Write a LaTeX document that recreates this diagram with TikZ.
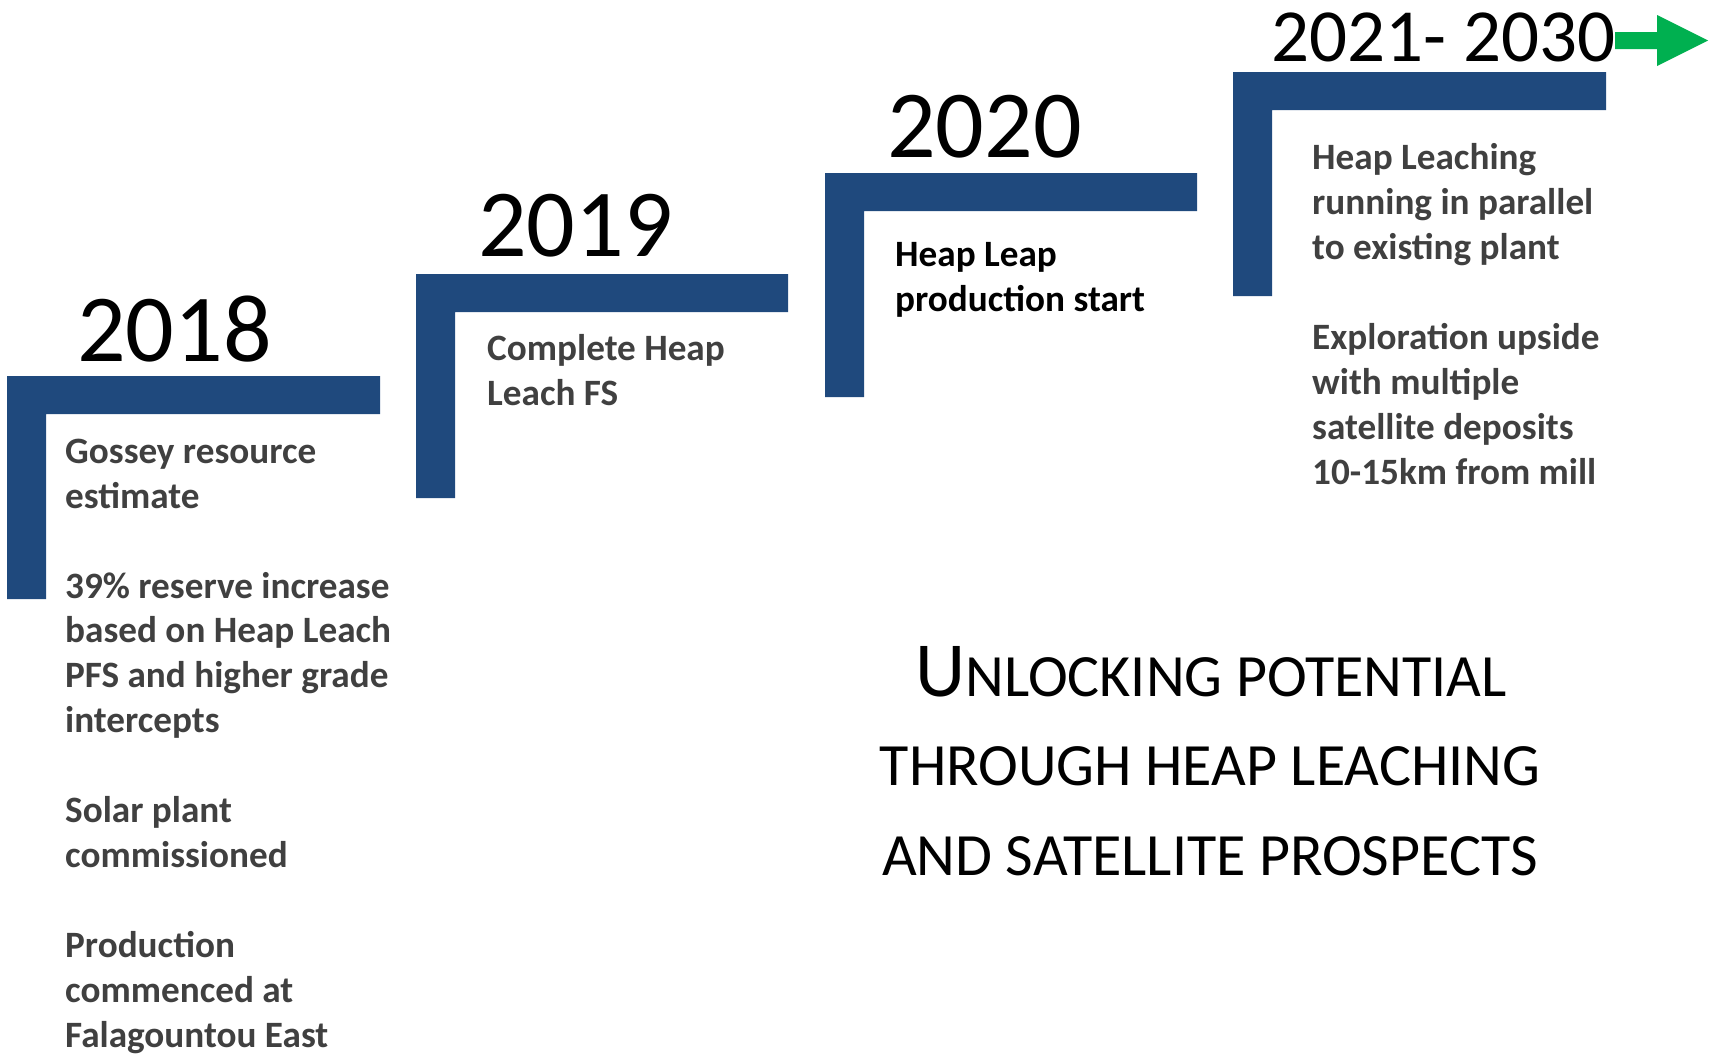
\documentclass[tikz,border=0pt]{standalone}
\usepackage{fontspec}
\setmainfont{Carlito}
\definecolor{stepblue}{HTML}{1F497D}
\definecolor{bodygray}{HTML}{404040}
\definecolor{arrowgreen}{HTML}{00B050}
\begin{document}
\begin{tikzpicture}[x=1pt,y=-1pt,
  yearlbl/.style={inner sep=0pt,anchor=base west,font=\fontsize{96}{110}\selectfont},
  bodytxt/.style={inner sep=0pt,anchor=base west,align=left,text=bodygray,font=\bfseries\fontsize{37.2}{44.9}\selectfont},
  titletxt/.style={inner sep=0pt,anchor=base,font=\fontsize{60}{88}\selectfont},
  stepbar/.style={fill=stepblue}]
\useasboundingbox (0,0) rectangle (1710,1053);
% L shapes
\fill[stepbar] (7,376) -- (380,376) -- (380,414) -- (46,414) -- (46,599) -- (7,599) -- cycle;
\fill[stepbar] (416,274) -- (788,274) -- (788,312) -- (455,312) -- (455,498) -- (416,498) -- cycle;
\fill[stepbar] (825,173) -- (1197,173) -- (1197,211) -- (864,211) -- (864,397) -- (825,397) -- cycle;
\fill[stepbar] (1233,72) -- (1606,72) -- (1606,110) -- (1272,110) -- (1272,296) -- (1233,296) -- cycle;
% green arrow
\fill[arrowgreen] (1615,32) -- (1657,32) -- (1657,15) -- (1708,40.5) -- (1657,66) -- (1657,49) -- (1615,49) -- cycle;
% years
\node[yearlbl] (y2018) at (77,361) {2018};
\node[yearlbl] (y2019) at (478,256) {2019};
\node[yearlbl] (y2020) at (887,157) {2020};
\node[yearlbl,font=\fontsize{75}{90}\selectfont] (y2021) at (1271,61) {2021- 2030};
% body texts (anchored at the baseline of their last line)
\node[bodytxt] (t2018) at (65,1047) {Gossey resource\\estimate\\[44.9pt]39\% reserve increase\\based on Heap Leach\\PFS and higher grade\\intercepts\\[44.9pt]Solar plant\\commissioned\\[44.9pt]Production\\commenced at\\Falagountou East};
\node[bodytxt] (t2019) at (487,405) {Complete Heap\\Leach FS};
\node[bodytxt,text=black] (t2020) at (895,311) {Heap Leap\\production start};
\node[bodytxt] (t2021) at (1312,484) {Heap Leaching\\running in parallel\\to existing plant\\[44.9pt]Exploration upside\\with multiple\\satellite deposits\\10-15km from mill};
% title
\node[titletxt] (title1) at (1211,696) {{\fontsize{78}{88}\selectfont U}NLOCKING POTENTIAL};
\node[titletxt] (title2) at (1210,785) {THROUGH HEAP LEACHING};
\node[titletxt] (title3) at (1210,875) {AND SATELLITE PROSPECTS};
\end{tikzpicture}
\end{document}
